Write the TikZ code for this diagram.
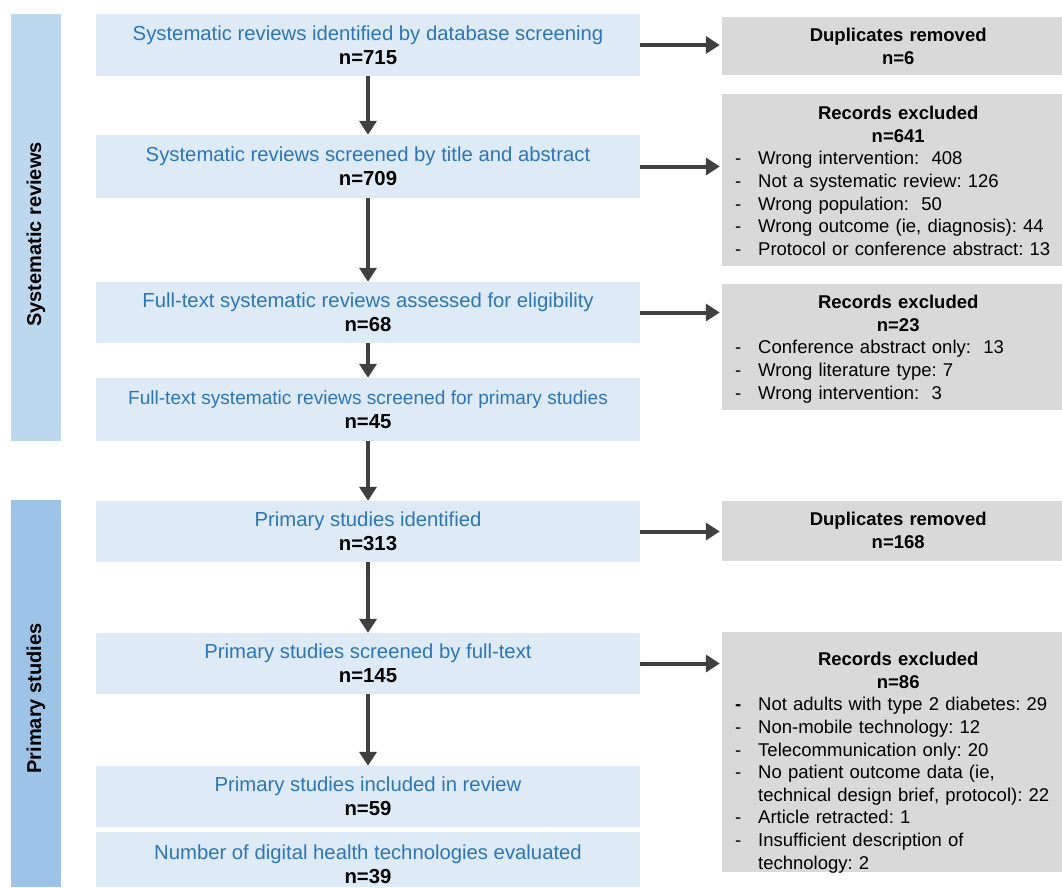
\documentclass[tikz,border=0pt]{standalone}
\usepackage{fontspec}
\setmainfont{Liberation Sans}
\frenchspacing
\usetikzlibrary{arrows.meta}
\definecolor{mainfill}{HTML}{DEEBF7}
\definecolor{greyfill}{HTML}{D9D9D9}
\definecolor{bar1fill}{HTML}{BDD7EE}
\definecolor{bar2fill}{HTML}{9DC3E6}
\definecolor{bluetxt}{HTML}{2E75B6}
\definecolor{arrowcol}{HTML}{404040}
\newcommand{\rbul}[1]{\par\noindent\makebox[23pt][l]{-}#1}
\newcommand{\rbulb}[1]{\par\noindent\makebox[23pt][l]{\textbf{-}}#1}
\newcommand{\rcont}[1]{\par\noindent\hspace*{23pt}#1}
\tikzset{
  mainbox/.style={rectangle, fill=mainfill, minimum width=544pt, inner sep=0pt, align=center, text=bluetxt, font=\fontsize{20.3}{24}\selectfont},
  maintext/.style={inner sep=0pt, align=center, text=bluetxt, font=\fontsize{20.3}{24}\selectfont},
  sidebar/.style={rectangle, minimum width=50pt, inner sep=0pt},
  sidelabel/.style={rotate=90, inner sep=0pt, font=\fontsize{20}{24}\selectfont\bfseries},
  greybox/.style={rectangle, fill=greyfill, minimum width=340pt, inner sep=0pt},
  rtext/.style={anchor=north west, inner sep=0pt, text width=326pt, font=\fontsize{18.5}{22.6}\selectfont},
  arr/.style={draw=arrowcol, line width=4pt, -{Triangle[length=14pt,width=17pt]}},
}
\newcommand{\nn}[1]{\\\textcolor{black}{\bfseries #1}}
\begin{document}
\begin{tikzpicture}[x=1pt,y=-1pt]
\useasboundingbox (0,0) rectangle (1062,887);
% side bars
\node[sidebar, fill=bar1fill, minimum height=427pt] (s1) at (36,227.5) {};
\node[sidebar, fill=bar2fill, minimum height=387pt] (s2) at (36,693.5) {};
\node[sidelabel] (s1l) at ([yshift=-7pt]s1.center) {Systematic reviews};
\node[sidelabel] (s2l) at ([yshift=-5pt]s2.center) {Primary studies};
% main boxes
\node[mainbox, minimum height=62pt] (b1) at (368,45) {Systematic reviews identified by database screening\nn{n=715}};
\node[mainbox, minimum height=63pt] (b2) at (368,166.5) {Systematic reviews screened by title and abstract\nn{n=709}};
\node[mainbox, minimum height=61pt] (b3) at (368,312.5) {Full-text systematic reviews assessed for eligibility\nn{n=68}};
\node[mainbox, minimum height=63pt] (b4) at (368,409.5) {{\fontsize{19.1}{24}\selectfont Full-text systematic reviews screened for primary studies}\nn{n=45}};
\node[mainbox, minimum height=61pt] (b5) at (368,531.5) {Primary studies identified\nn{n=313}};
\node[mainbox, minimum height=61pt] (b6) at (368,663.5) {Primary studies screened by full-text\nn{n=145}};
\node[mainbox, minimum height=61pt] (b7) at (368,796.5) {Primary studies included in review\nn{n=59}};
\node[mainbox, minimum height=55pt] (b8) at (368,859.5) {};
\node[maintext] (b8t) at (368,864.5) {Number of digital health technologies evaluated\nn{n=39}};
% grey boxes
\node[greybox, minimum height=58pt] (r1) at (892,46) {};
\node[greybox, minimum height=172pt] (r2) at (892,180) {};
\node[greybox, minimum height=126pt] (r3) at (892,347) {};
\node[greybox, minimum height=60pt] (r4) at (892,531) {};
\node[greybox, minimum height=240pt] (r5) at (892,752) {};
\node[rtext] (r1t) at (735,28) {\centering\bfseries Duplicates removed\\n=6\par};
\node[rtext] (r2t) at (735,106) {\centering\textbf{Records excluded}\\\textbf{n=641}\par\raggedright
  \rbul{Wrong intervention:\ \ 408}
  \rbul{Not a systematic review: 126}
  \rbul{Wrong population:\ \ 50}
  \rbul{Wrong outcome (ie, diagnosis): 44}
  \rbul{Protocol or conference abstract: 13}\par};
\node[rtext] (r3t) at (735,295) {\centering\textbf{Records excluded}\\\textbf{n=23}\par\raggedright
  \rbul{Conference abstract only:\ \ 13}
  \rbul{Wrong literature type: 7}
  \rbul{Wrong intervention:\ \ 3}\par};
\node[rtext] (r4t) at (735,512) {\centering\bfseries Duplicates removed\\n=168\par};
\node[rtext] (r5t) at (735,652) {\centering\textbf{Records excluded}\\\textbf{n=86}\par\raggedright
  \rbulb{Not adults with type 2 diabetes: 29}
  \rbul{Non-mobile technology: 12}
  \rbul{Telecommunication only: 20}
  \rbul{No patient outcome data (ie,}
  \rcont{technical design brief, protocol): 22}
  \rbul{Article retracted: 1}
  \rbul{Insufficient description of}
  \rcont{technology: 2}\par};
% vertical arrows
\draw[arr] (b1.south) -- (b2.north);
\draw[arr] (b2.south) -- (b3.north);
\draw[arr] (b3.south) -- (b4.north);
\draw[arr] (b4.south) -- (b5.north);
\draw[arr] (b5.south) -- (b6.north);
\draw[arr] (b6.south) -- (b7.north);
% horizontal arrows
\draw[arr, shorten >=2pt] (b1.east) -- (b1.east -| r1.west);
\draw[arr, shorten >=2pt] (b2.east) -- (b2.east -| r2.west);
\draw[arr, shorten >=2pt] (b3.east) -- (b3.east -| r3.west);
\draw[arr, shorten >=2pt] (b5.east) -- (b5.east -| r4.west);
\draw[arr, shorten >=2pt] (b6.east) -- (b6.east -| r5.west);
\end{tikzpicture}
\end{document}
